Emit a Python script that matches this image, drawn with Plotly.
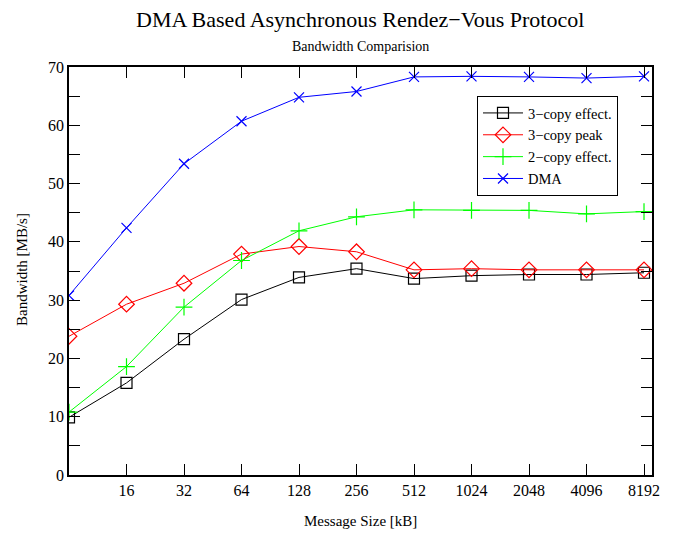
import plotly.graph_objects as go
import math

sizes = [8, 16, 32, 64, 128, 256, 512, 1024, 2048, 4096, 8192]
tick_vals = [16, 32, 64, 128, 256, 512, 1024, 2048, 4096, 8192]
tick_text = ["16", "32", "64", "128", "256", "512", "1024", "2048", "4096", "8192"]

copy3_effect = [9.9, 15.8, 23.3, 30.1, 33.9, 35.4, 33.7, 34.2, 34.4, 34.4, 34.7]
copy3_peak = [23.8, 29.3, 32.9, 37.9, 39.2, 38.3, 35.2, 35.4, 35.2, 35.2, 35.2]
copy2_effect = [10.8, 18.6, 28.8, 36.8, 41.9, 44.3, 45.5, 45.4, 45.4, 44.8, 45.2]
dma = [30.8, 42.4, 53.4, 60.7, 64.8, 65.8, 68.3, 68.4, 68.3, 68.1, 68.4]

series = [
    ("3\u2212copy effect.", copy3_effect, "black", "square-open", 11),
    ("3\u2212copy peak", copy3_peak, "red", "diamond-open", 12),
    ("2\u2212copy effect.", copy2_effect, "#00ff00", "cross-thin-open", 12),
    ("DMA", dma, "blue", "x-thin-open", 10),
]

fig = go.Figure()
for name, ys, color, sym, sz in series:
    fig.add_trace(go.Scatter(
        x=sizes, y=ys, name=name, mode="lines+markers",
        line=dict(color=color, width=1),
        marker=dict(symbol=sym, size=sz, color=color, line=dict(color=color, width=1.2)),
    ))

serif = "Liberation Serif, Times New Roman, serif"
L, R, T, B = 69, 23, 67, 58
PW, PH = 675 - L - R, 533 - T - B

fig.update_layout(
    width=675, height=533,
    margin=dict(l=L, r=R, t=T, b=B, autoexpand=False),
    paper_bgcolor="white", plot_bgcolor="white",
    font=dict(family=serif, size=15, color="black"),
    showlegend=True,
    legend=dict(x=(477 - L) / PW, y=(475 - 96) / PH, xanchor="left", yanchor="top",
                bordercolor="black", borderwidth=1, bgcolor="white",
                font=dict(family=serif, size=14.5), tracegroupgap=0,
                itemwidth=40),
)
fig.add_annotation(text="DMA Based Asynchronous Rendez\u2212Vous Protocol",
                   xref="paper", yref="paper", x=(360 - L) / PW, y=1 + (T - 20) / PH,
                   showarrow=False, font=dict(family=serif, size=22), yanchor="middle")
fig.add_annotation(text="Bandwidth Comparision",
                   xref="paper", yref="paper", x=(360 - L) / PW, y=1 + (T - 47) / PH,
                   showarrow=False, font=dict(family=serif, size=14), yanchor="middle")
fig.add_annotation(text="Message Size [kB]",
                   xref="paper", yref="paper", x=(360 - L) / PW, y=-(521 - 475) / PH,
                   showarrow=False, font=dict(family=serif, size=15), yanchor="middle")
fig.add_annotation(text="Bandwidth [MB/s]", textangle=-90,
                   xref="paper", yref="paper", x=-(L - 22) / PW, y=(475 - 270) / PH,
                   showarrow=False, font=dict(family=serif, size=15),
                   xanchor="center", yanchor="middle")

fig.update_xaxes(
    type="log", automargin=False,
    range=[math.log10(8), math.log10(8192) + 0.139 * math.log10(2)],
    tickvals=tick_vals, ticktext=tick_text,
    ticks="inside", ticklen=11, tickwidth=1.2, tickcolor="black",
    showline=True, linecolor="black", linewidth=1.5, mirror="ticks",
    showgrid=False, zeroline=False,
    tickfont=dict(family=serif, size=16),
)
fig.update_yaxes(
    range=[0, 70], dtick=10, tick0=0, automargin=False,
    ticks="inside", ticklen=11, tickwidth=1.2, tickcolor="black",
    minor=dict(dtick=5, ticks="inside", ticklen=11, tickwidth=1.2, tickcolor="black"),
    showline=True, linecolor="black", linewidth=1.5, mirror="ticks",
    showgrid=False, zeroline=False,
    tickfont=dict(family=serif, size=16),
)

fig.write_html("out.html")
